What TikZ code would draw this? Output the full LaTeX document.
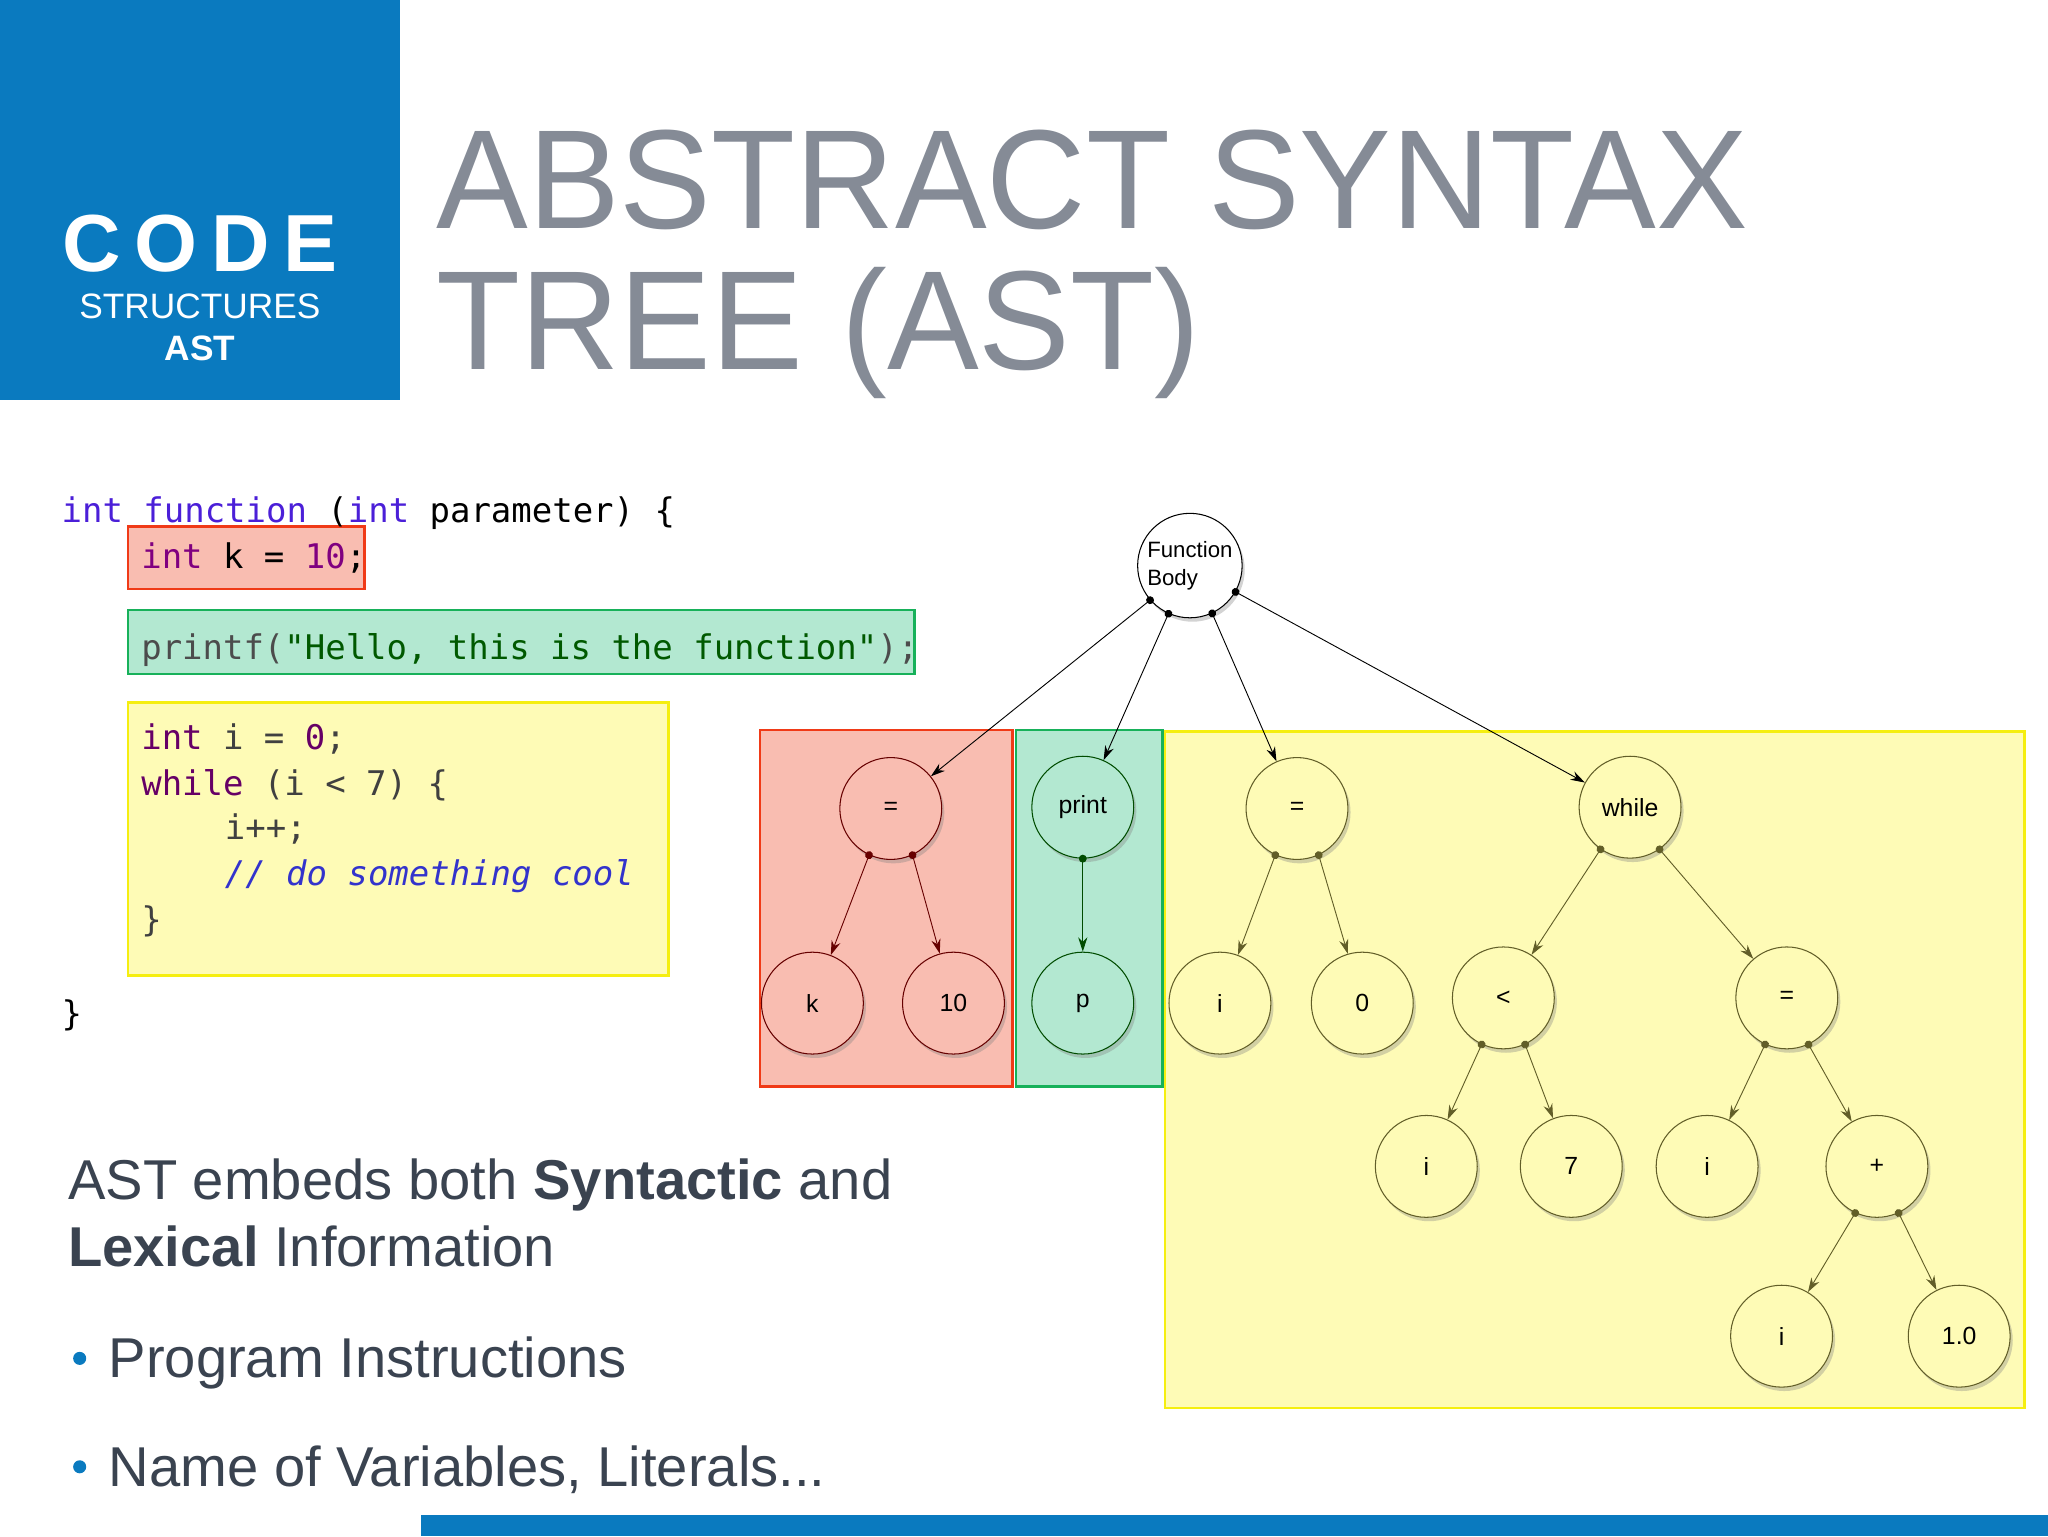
\documentclass[tikz,border=0pt]{standalone}
\usepackage{fontspec}
\setmainfont{Liberation Sans}
\newfontfamily\codefont{DejaVu Sans Mono}
\usetikzlibrary{arrows.meta,shadows}
\definecolor{topblue}{HTML}{0A7ABF}
\definecolor{titlegray}{HTML}{858B96}
\definecolor{txtgray}{HTML}{3A4350}
\definecolor{kw}{HTML}{4B1FD8}
\definecolor{redfill}{HTML}{F9BDB1}
\definecolor{redline}{HTML}{F03A17}
\definecolor{grnfill}{HTML}{B3E8D1}
\definecolor{grnline}{HTML}{17B15A}
\definecolor{yelfill}{HTML}{FEFBB6}
\definecolor{yelline}{HTML}{F5EE10}
\tikzset{
  tn/.style={circle,draw=#1,line width=0.8pt,minimum size=78pt,inner sep=0pt,font=\fontsize{19}{21}\selectfont,drop shadow={opacity=0.35,shadow xshift=2pt,shadow yshift=-3pt}},
  rn/.style={tn=red!40!black,fill=redfill},
  gn/.style={tn=green!30!black,fill=grnfill},
  yn/.style={tn=olive!60!black,fill=yelfill},
  edge/.style={{Circle[length=6pt]}-{Stealth[length=11pt,width=7pt]},line width=0.7pt,shorten <=-3pt},
  codeline/.style={anchor=base west,inner sep=0pt,font=\codefont\fontsize{26}{30}\selectfont},
  bodytxt/.style={anchor=base west,inner sep=0pt,text=txtgray,font=\fontsize{43}{50}\selectfont},
  titletxt/.style={text=titlegray,font=\fontsize{108}{120}\selectfont,anchor=base west,inner sep=0pt,xscale=0.975}
}
\begin{document}
\begin{tikzpicture}[x=1pt,y=-1pt]
\useasboundingbox (0,0) rectangle (1568,1176);
% header
\fill[topblue] (0,0) rectangle (306,306);
\node[text=white,font=\bfseries\fontsize{62}{70}\selectfont,anchor=base] (code) at (153,208) {C\,O\,D\,E};
\node[text=white,font=\fontsize{27}{30}\selectfont,anchor=base] (struct) at (153,244) {STRUCTURES};
\node[text=white,font=\bfseries\fontsize{27}{30}\selectfont,anchor=base] (ast) at (153,276) {AST};
\node[titletxt] (t1) at (334,175) {ABSTRACT SYNTAX};
\node[titletxt] (t2) at (334,283) {TREE (AST)};
% code
\filldraw[fill=redfill,draw=redline,line width=2pt] (98,403) rectangle (279,451);
\filldraw[fill=grnfill,draw=grnline,line width=2pt] (98,467) rectangle (700,516);
\filldraw[fill=yelfill,draw=yelline,line width=2pt] (98,538) rectangle (512,747);
\node[codeline] (c0) at (47,400) {\textcolor{kw}{int function} (\textcolor{kw}{int} parameter) \{};
\node[codeline] (c1) at (108,435) {\textcolor{violet}{int} k = \textcolor{violet}{10};};
\node[codeline,text=green!35!black] (c2) at (108,505) {\textcolor{black!70}{printf(}"Hello, this is the function"\textcolor{black!70}{);}};
\node[codeline,text=black!75] (c3) at (108,574) {\textcolor{violet!80!black}{int} i = \textcolor{violet!80!black}{0};};
\node[codeline,text=black!75] (c4) at (108,609) {\textcolor{violet!80!black}{while} (i < 7) \{};
\node[codeline,text=black!75] (c5) at (172,643) {i++;};
\node[codeline,text=blue!60!gray] (c6) at (172,678) {\itshape // do something cool};
\node[codeline,text=black!75] (c7) at (108,713) {\}};
\node[codeline] (c8) at (47,785) {\}};
% tree regions
\filldraw[fill=redfill,draw=redline,line width=2pt] (582,559) rectangle (775,832);
\filldraw[fill=grnfill,draw=grnline,line width=2pt] (778,559) rectangle (890,832);
\filldraw[fill=yelfill,draw=yelline,line width=2pt] (892,560) rectangle (1550,1078);
% nodes
\node[tn=black,fill=white,minimum size=80pt,align=left,font=\fontsize{17}{21}\selectfont] (fb) at (911,433) {Function\\Body};
\node[rn] (eqa) at (682,619) {=};
\node[rn] (k) at (622,768) {k};
\node[rn] (ten) at (730,768) {10};
\node[gn] (pr) at (829,618) {print};
\node[gn] (p) at (829,768) {p};
\node[yn] (eqb) at (993,619) {=};
\node[yn] (ia) at (934,768) {i};
\node[yn] (zero) at (1043,768) {0};
\node[yn] (wh) at (1248,618) {while};
\node[yn] (lt) at (1151,764) {<};
\node[yn] (eqc) at (1368,764) {=};
\node[yn] (ib) at (1092,893) {i};
\node[yn] (seven) at (1203,893) {7};
\node[yn] (ic) at (1307,893) {i};
\node[yn] (plus) at (1437,893) {+};
\node[yn] (id) at (1364,1023) {i};
\node[yn] (onep) at (1500,1023) {1.0};
% edges
\draw[edge] (fb.221) -- (eqa);
\draw[edge] (fb.246) -- (pr);
\draw[edge] (fb.295) -- (eqb);
\draw[edge] (fb.330) -- (wh);
\draw[edge,red!40!black] (eqa.245) -- (k);
\draw[edge,red!40!black] (eqa.295) -- (ten);
\draw[edge,green!30!black] (pr.270) -- (p);
\draw[edge,olive!60!black] (eqb.245) -- (ia);
\draw[edge,olive!60!black] (eqb.295) -- (zero);
\draw[edge,olive!60!black] (wh.235) -- (lt);
\draw[edge,olive!60!black] (wh.305) -- (eqc);
\draw[edge,olive!60!black] (lt.245) -- (ib);
\draw[edge,olive!60!black] (lt.295) -- (seven);
\draw[edge,olive!60!black] (eqc.245) -- (ic);
\draw[edge,olive!60!black] (eqc.295) -- (plus);
\draw[edge,olive!60!black] (plus.245) -- (id);
\draw[edge,olive!60!black] (plus.295) -- (onep);
% body text
\node[bodytxt] (b1) at (52,918) {AST embeds both \textbf{Syntactic} and};
\node[bodytxt] (b2) at (52,970) {\textbf{Lexical} Information};
\node[bodytxt] (b3) at (83,1055) {Program Instructions};
\node[bodytxt] (b4) at (83,1138) {Name of Variables, Literals...};
\fill[topblue] (61,1040) circle (5);
\fill[topblue] (61,1123) circle (5);
\fill[topblue] (322,1160) rectangle (1568,1176);
\end{tikzpicture}
\end{document}
